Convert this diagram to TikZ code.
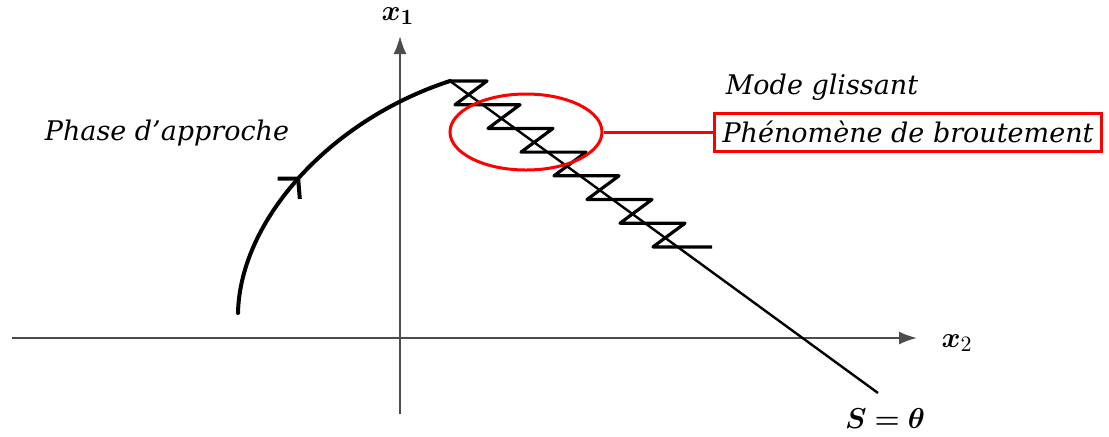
\documentclass[tikz,border=0pt]{standalone}
\usepackage{fontspec}
\usepackage{bm}
\setmainfont{DejaVu Serif}
\usetikzlibrary{arrows.meta,shapes.geometric,decorations.markings}
\tikzset{
  axis/.style={line width=1pt,color=black!70,-{Latex[length=9pt,width=6.5pt]}},
  traj/.style={line width=2pt,line cap=round},
  zig/.style={line width=1.6pt,line join=round},
  redmark/.style={draw=red,line width=1.5pt},
  lbl/.style={font=\fontsize{13.5}{15}\selectfont\itshape,inner sep=0pt},
  mlbl/.style={font=\fontsize{15}{17}\selectfont,inner sep=0pt}
}
\begin{document}
\begin{tikzpicture}[x=0.5pt,y=-0.5pt]
  \useasboundingbox (0,0) rectangle (1109,436);
  % axes
  \coordinate (hstart) at (12,338);
  \coordinate (hend) at (917,338);
  \coordinate (vstart) at (400,414);
  \coordinate (vend) at (400,36);
  \draw[axis] (hstart) -- (hend);
  \draw[axis] (vstart) -- (vend);
  \node[mlbl] (x2) at (957,343) {$\bm{x}_{2}$};
  \node[mlbl] (x1) at (398,16) {$\bm{x}_{\bm{1}}$};
  % approach phase
  \coordinate (start) at (238,313);
  \coordinate (apex) at (450,81);
  \draw[traj,decoration={markings,mark=at position 0.46 with {\arrow{Straight Barb[length=7pt,width=15pt]}}},postaction={decorate}]
    (start) .. controls (240,220) and (330,120) .. (apex);
  \node[lbl] (approche) at (167,133) {Phase d’approche};
  % sliding surface
  \coordinate (send) at (878,393);
  \draw[line width=1.2pt] (apex) -- (send);
  \node[mlbl,anchor=base] (surf) at (885,428) {$\bm{S=\theta}$};
  % chattering
  \draw[zig] (apex) -- ++(37,0)
    \foreach \k in {1,...,6} { -- ++(-32,23.7) -- ++(65,0) }
    -- ++(-32,23.7) -- ++(59,0);
  \node[lbl] (mode) at (822,87) {Mode glissant};
  \node[redmark,ellipse,minimum width=76pt,minimum height=38pt] (zoomzone) at (526,132) {};
  \node[redmark,lbl,anchor=west,inner xsep=4pt,minimum height=19pt] (brout) at (713,132) {Phénomène de broutement};
  \draw[redmark] (zoomzone.east) -- (brout.west);
\end{tikzpicture}
\end{document}
